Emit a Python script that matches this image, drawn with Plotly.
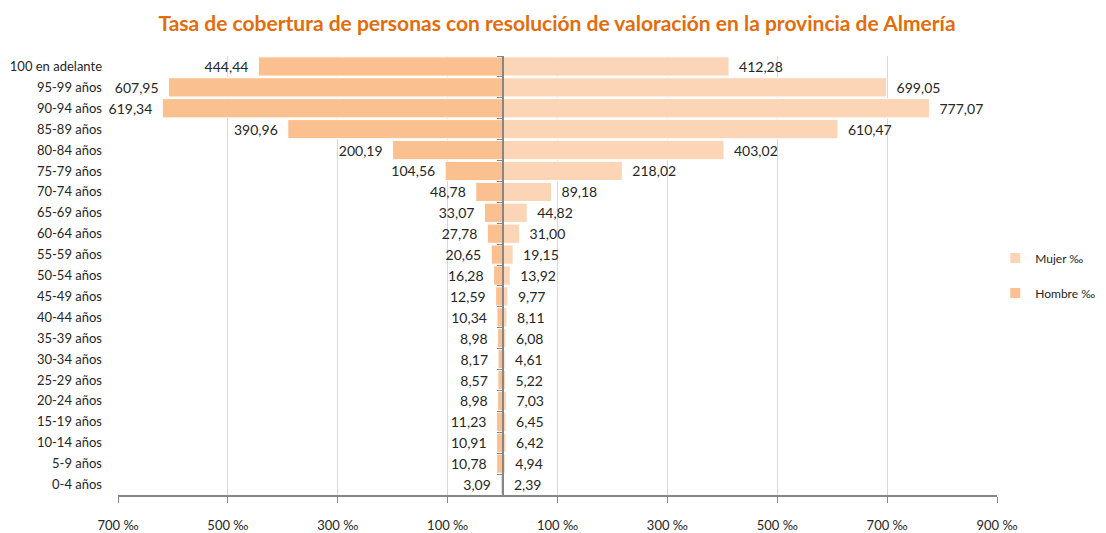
import plotly.graph_objects as go

# grupos de edad, de abajo (0-4) hacia arriba
grupos = ['0-4 años', '5-9 años', '10-14 años', '15-19 años', '20-24 años', '25-29 años',
          '30-34 años', '35-39 años', '40-44 años', '45-49 años', '50-54 años', '55-59 años',
          '60-64 años', '65-69 años', '70-74 años', '75-79 años', '80-84 años', '85-89 años',
          '90-94 años', '95-99 años', '100 en adelante']
hombre = [3.09, 10.78, 10.91, 11.23, 8.98, 8.57, 8.17, 8.98, 10.34, 12.59, 16.28, 20.65,
          27.78, 33.07, 48.78, 104.56, 200.19, 390.96, 619.34, 607.95, 444.44]
mujer = [2.39, 4.94, 6.42, 6.45, 7.03, 5.22, 4.61, 6.08, 8.11, 9.77, 13.92, 19.15,
         31.00, 44.82, 89.18, 218.02, 403.02, 610.47, 777.07, 699.05, 412.28]
tick_vals = [-700, -500, -300, -100, 100, 300, 500, 700, 900]
tick_text = ['700 ‰', '500 ‰', '300 ‰', '100 ‰', '100 ‰', '300 ‰', '500 ‰', '700 ‰', '900 ‰']

SP = '\u2002'

def fmt(v):
    return f"{v:.2f}".replace('.', ',')

fig = go.Figure()
fig.add_trace(go.Bar(y=grupos, x=mujer, orientation='h', name='Mujer ‰', yaxis='y2',
                     legendgroup='m', marker=dict(color='#FBD5B5', line=dict(color='white', width=1)),
                     text=[SP + fmt(v) for v in mujer],
                     textposition='outside', cliponaxis=False,
                     textfont=dict(size=14, color='#262626')))
fig.add_trace(go.Bar(y=grupos, x=[-v for v in hombre], orientation='h', name='Hombre ‰',
                     legendgroup='h', marker=dict(color='#FAC090', line=dict(color='white', width=1)),
                     text=[fmt(v) + SP for v in hombre],
                     textposition='outside', cliponaxis=False,
                     textfont=dict(size=14, color='#262626')))

# la página tiene 8 px de margen en body: figura algo menor para que quepa
fig.update_layout(
    title=dict(text='Tasa de cobertura de personas con resolución de valoración en la provincia de Almería',
               x=0.5, xanchor='center', y=0.971, yanchor='middle',
               font=dict(family='Lato', size=21, color='#E46C0A', weight='bold')),
    font=dict(family='Lato', size=13, color='#262626'),
    width=1098, height=525,
    margin=dict(l=110, r=109, t=48, b=38, autoexpand=False),
    plot_bgcolor='white', paper_bgcolor='white',
    barmode='overlay', bargap=0.08,
    xaxis=dict(range=[-700, 900], tickvals=tick_vals, ticktext=tick_text,
               showgrid=True, gridcolor='#D9D9D9', zeroline=False, automargin=False,
               showline=True, linecolor='#868686', linewidth=2,
               ticks='outside', ticklen=6, tickcolor='#868686', ticklabelstandoff=11,
               tickfont=dict(size=13)),
    yaxis=dict(categoryorder='array', categoryarray=grupos, range=[-0.5, 20.5],
               showline=False, ticks='', showgrid=False, ticklabelstandoff=15,
               automargin=False, tickfont=dict(size=13)),
    yaxis2=dict(categoryorder='array', categoryarray=grupos, range=[-0.5, 20.5],
                overlaying='y', anchor='free', position=700 / 1600,
                showline=True, linecolor='#868686', linewidth=2, showgrid=False,
                ticks='outside', tickson='boundaries', ticklen=5, tickcolor='#868686',
                showticklabels=False),
    legend=dict(x=0.998, y=0.5, xanchor='left', yanchor='middle', traceorder='grouped',
                tracegroupgap=16, itemsizing='constant', font=dict(size=12), itemwidth=30),
    showlegend=True,
)

fig.write_html("out.html")
